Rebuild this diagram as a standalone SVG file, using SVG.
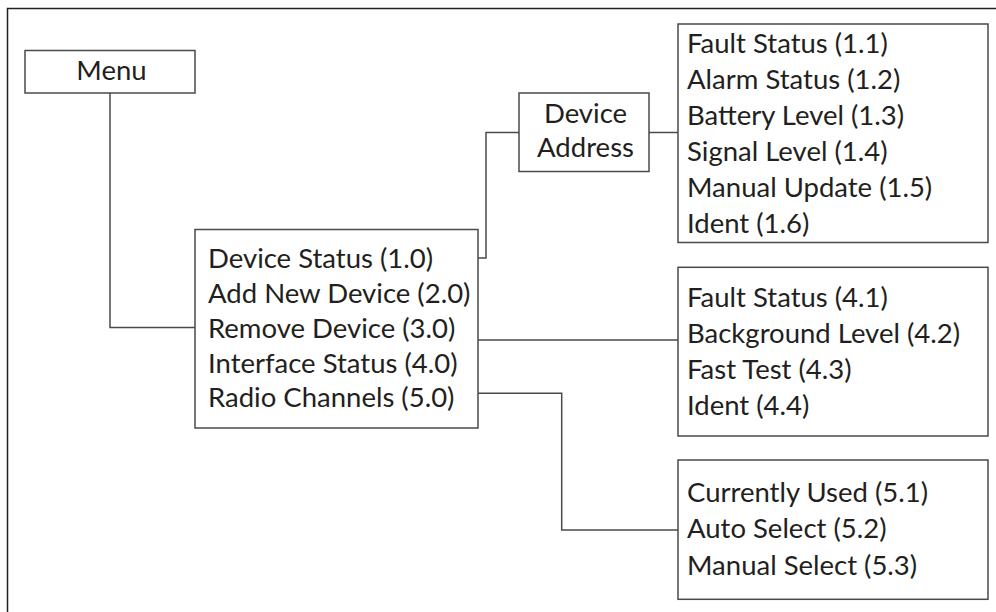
<svg xmlns="http://www.w3.org/2000/svg" width="996" height="612" viewBox="0 0 996 612">
<style>
.box{fill:#fff;stroke:#4a4a4a;stroke-width:1.5}
.ln{fill:none;stroke:#4a4a4a;stroke-width:1.5}
text{font-family:Lato,"Liberation Sans",sans-serif;font-size:27.5px;fill:#231f20}
.c{text-anchor:middle}
</style>
<rect width="996" height="612" fill="#fff"/>
<path d="M7.5,620 V8.5 H1000" fill="none" stroke="#222" stroke-width="1.5"/>
<g id="connectors">
<path class="ln" d="M110,93 V327.5 H195"/>
<path class="ln" d="M478,258 H486 V132.5 H519"/>
<path class="ln" d="M649,132.5 H678"/>
<path class="ln" d="M478,340 H678"/>
<path class="ln" d="M478,393.3 H561.7 V530 H678"/>
</g>
<g id="menu">
<rect class="box" x="25" y="50.5" width="170" height="42.5"/>
<text class="c" x="111.5" y="80">Menu</text>
</g>
<g id="main">
<rect class="box" x="195" y="229.5" width="283" height="198.5"/>
<text x="208" y="268.3">Device Status (1.0)</text>
<text x="208" y="303">Add New Device (2.0)</text>
<text x="208" y="337.8">Remove Device (3.0)</text>
<text x="208" y="372.5">Interface Status (4.0)</text>
<text x="208" y="407.3">Radio Channels (5.0)</text>
</g>
<g id="device-address">
<rect class="box" x="519" y="93" width="130" height="78.5"/>
<text class="c" x="585.5" y="123.3">Device</text>
<text class="c" x="585.5" y="156.7">Address</text>
</g>
<g id="device-status-sub">
<rect class="box" x="678" y="24" width="310" height="218.5"/>
<text x="687" y="53.3">Fault Status (1.1)</text>
<text x="687" y="89.3">Alarm Status (1.2)</text>
<text x="687" y="125.3">Battery Level (1.3)</text>
<text x="687" y="161.3">Signal Level (1.4)</text>
<text x="687" y="197.3">Manual Update (1.5)</text>
<text x="687" y="233.3">Ident (1.6)</text>
</g>
<g id="interface-sub">
<rect class="box" x="678" y="267.3" width="310" height="168.7"/>
<text x="687" y="306.7">Fault Status (4.1)</text>
<text x="687" y="342.9">Background Level (4.2)</text>
<text x="687" y="379">Fast Test (4.3)</text>
<text x="687" y="415">Ident (4.4)</text>
</g>
<g id="radio-sub">
<rect class="box" x="678" y="460" width="310" height="139.3"/>
<text x="687" y="501.7">Currently Used (5.1)</text>
<text x="687" y="538">Auto Select (5.2)</text>
<text x="687" y="574.5">Manual Select (5.3)</text>
</g>
</svg>
